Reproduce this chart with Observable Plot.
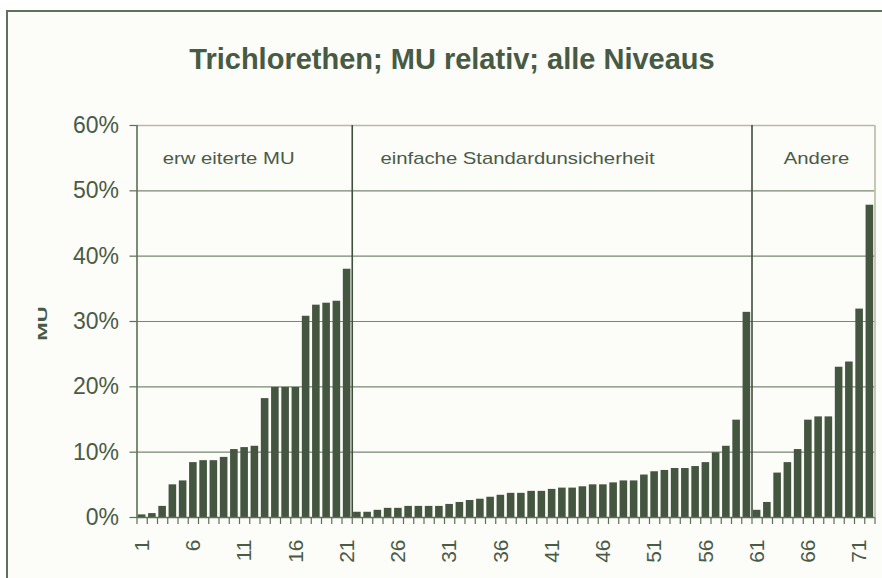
<!DOCTYPE html>
<html><head><meta charset="utf-8">
<script src="https://cdn.jsdelivr.net/npm/d3@7"></script>
<script src="https://cdn.jsdelivr.net/npm/@observablehq/plot@0.6"></script>
<style>
body{margin:0;background:#fff;}
#wrap{position:relative;width:882px;height:578px;overflow:hidden;}
#border{position:absolute;left:6px;top:10px;width:900px;height:620px;border:2px solid #5f705b;background:#fcfcf9;box-sizing:border-box;}
#chart{position:absolute;left:0;top:0;}
</style></head><body>
<div id="wrap"><div id="border"></div><div id="chart"></div></div>
<script>
const title = "Trichlorethen; MU relativ; alle Niveaus";
const yLabel = "MU";
const groupLabels = ["erw eiterte MU", "einfache Standardunsicherheit", "Andere"];
// values in percent
const erweiterteMU = [0.4,0.6,1.7,5.0,5.6,8.4,8.7,8.7,9.2,10.4,10.7,10.9,18.2,19.9,19.9,19.9,30.8,32.5,32.8,33.1,38.0];
const einfacheStd = [0.8,0.8,1.1,1.4,1.4,1.7,1.7,1.7,1.7,2.0,2.3,2.6,2.8,3.1,3.4,3.7,3.7,4.0,4.0,4.3,4.5,4.5,4.7,5.0,
                     5.0,5.3,5.6,5.6,6.5,7.0,7.2,7.5,7.5,7.8,8.4,9.9,10.9,14.9,31.4];
const andere = [1.1,2.3,6.8,8.4,10.4,14.9,15.4,15.4,23.0,23.8,31.9,47.8];
const yTicks = [0,0.1,0.2,0.3,0.4,0.5,0.6];
const xTickLabels = [1,6,11,16,21,26,31,36,41,46,51,56,61,66,71];

const groups = [erweiterteMU, einfacheStd, andere];
const data = [];
const groupStarts = [];
groups.forEach((g, gi) => {
  groupStarts.push(data.length + 1);
  g.forEach(v => data.push({i: data.length + 1, v: v / 100, g: gi}));
});
const n = data.length;
const separators = groupStarts.slice(1).map(s => s - 0.5);
const boundaries = d3.range(0, n + 1).map(k => k + 0.5);

const textColor = "#4a5b46";
const barColor = "#44563f";
const gridColor = "#76886f";
const axisColor = "#5d6e59";
const frameLight = "#b9b9a6";

const annos = groupLabels.map((t, k) => ({t, x: groupStarts[k] + [2, 2.25, 2.6][k]}));

const plot = Plot.plot({
  width: 882,
  height: 578,
  marginTop: 125,
  marginBottom: 61,
  marginLeft: 136.5,
  marginRight: 7.5,
  style: {color: textColor, background: "transparent", fontFamily: "'Liberation Sans', Arial, sans-serif"},
  x: {type: "linear", domain: [0.5, n + 0.5], label: null},
  y: {domain: [0, 0.6], label: null},
  marks: [
    Plot.ruleY(yTicks.filter(t => t > 0 && t < 0.6), {stroke: gridColor, strokeWidth: 1.2}),
    Plot.ruleY([0.6], {stroke: frameLight, strokeWidth: 1.6}),
    Plot.ruleX([n + 0.5], {y1: 0, y2: 0.6, stroke: frameLight, strokeWidth: 1.6}),
    Plot.rectY(data, {x1: d => d.i - 0.37, x2: d => d.i + 0.37, y: "v", fill: barColor}),
    Plot.ruleX(separators, {y1: 0, y2: 0.6, stroke: "#3e4f3b", strokeWidth: 1.6}),
    Plot.ruleX([0.5], {y1: 0, y2: 0.6, stroke: axisColor, strokeWidth: 1.6}),
    Plot.ruleY([0], {stroke: axisColor, strokeWidth: 1.6}),
    Plot.ruleX(boundaries, {y1: 0, y2: 0, insetBottom: -7, stroke: axisColor, strokeWidth: 1.2}),
    Plot.axisY(yTicks, {tickSize: 7, tickPadding: 11, tickFormat: d3.format(".0%"), fontSize: 23, stroke: axisColor, strokeWidth: 1.2, fill: textColor, label: null}),
    Plot.axisX(xTickLabels, {tickSize: 0, tickPadding: 22, tickRotate: -90, fontSize: 21, fill: textColor, label: null}),
    Plot.text(annos, {x: "x", text: "t", frameAnchor: "top", dy: 27, textAnchor: "start", fontSize: 16, fill: textColor}),
    Plot.text([title], {frameAnchor: "top", dx: -54, dy: -77, textAnchor: "middle", fontSize: 29, fontWeight: "bold", fill: "#475a43"}),
    Plot.text([yLabel], {frameAnchor: "left", dx: -94, dy: 2, rotate: -90, textAnchor: "middle", fontSize: 13, fontWeight: "bold", fill: "#475a43"})
  ]
});
document.getElementById("chart").appendChild(plot);
plot.querySelectorAll("text").forEach(t => {
  const s = t.textContent;
  const tr = t.getAttribute("transform") || "";
  if (groupLabels.includes(s)) t.setAttribute("transform", tr + " scale(1.27,1)");
  if (s === yLabel) t.setAttribute("transform", tr + " scale(1.7,1)");
});
</script>
</body></html>
